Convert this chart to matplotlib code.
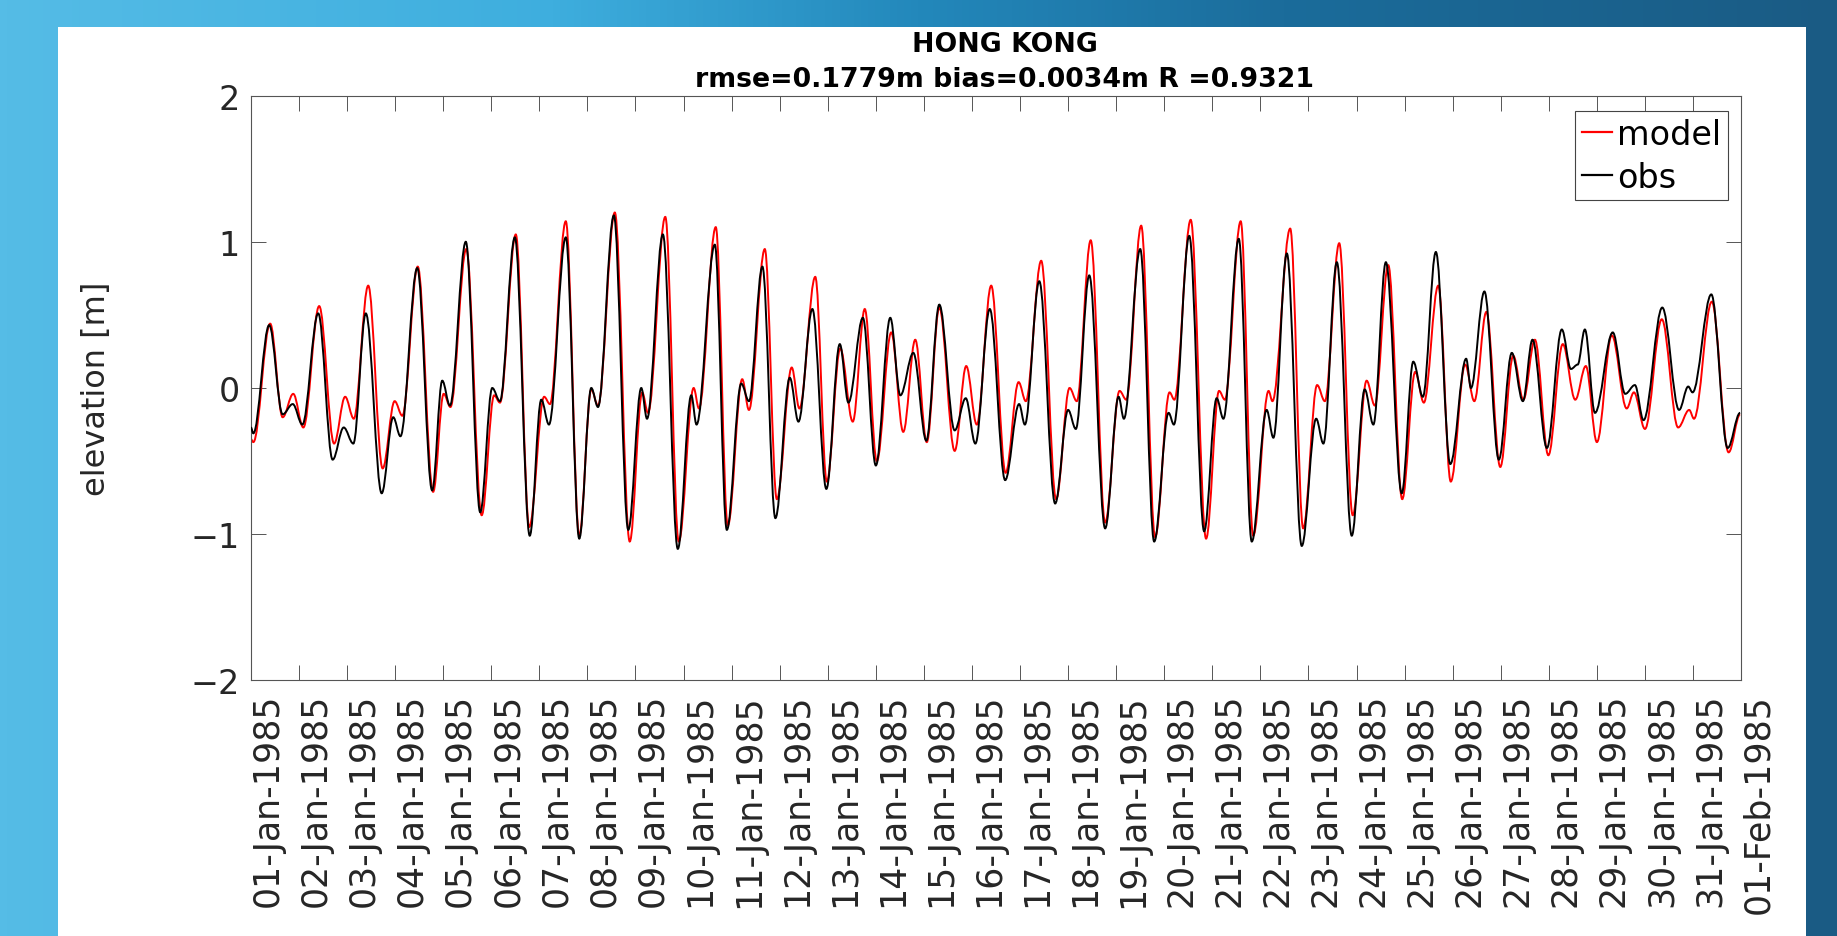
import numpy as np
import pandas as pd
import matplotlib
matplotlib.use('Agg')
import matplotlib.pyplot as plt
import matplotlib.dates as mdates
from matplotlib.path import Path
from matplotlib.patches import PathPatch, Rectangle
from matplotlib.lines import Line2D
from matplotlib.colors import LinearSegmentedColormap

# turning points
# time = days after 01-Jan-1985 00:00, value = elevation [m]
obs_t = [0.00, 0.05, 0.38, 0.66, 0.87, 1.07, 1.40, 1.70, 1.93, 2.13,
         2.39, 2.72, 2.96, 3.11, 3.46, 3.77, 3.98, 4.14, 4.47, 4.77,
         5.02, 5.18, 5.49, 5.80, 6.04, 6.20, 6.55, 6.83, 7.08, 7.22,
         7.55, 7.85, 8.12, 8.24, 8.57, 8.88, 9.16, 9.27, 9.65, 9.90,
         10.20, 10.36, 10.64, 10.91, 11.21, 11.39, 11.68, 11.97, 12.25, 12.43,
         12.73, 13.00, 13.30, 13.51, 13.78, 14.05, 14.32, 14.64, 14.87, 15.07,
         15.37, 15.69, 15.98, 16.10, 16.40, 16.73, 17.00, 17.16, 17.44, 17.77,
         18.05, 18.16, 18.50, 18.79, 19.09, 19.20, 19.52, 19.83, 20.09, 20.23,
         20.55, 20.82, 21.13, 21.27, 21.55, 21.86, 22.16, 22.31, 22.59, 22.90,
         23.17, 23.35, 23.61, 23.94, 24.18, 24.38, 24.65, 24.95, 25.28, 25.38,
         25.66, 25.96, 26.23, 26.46, 26.66, 26.96, 27.27, 27.46, 27.60, 27.75,
         27.96, 28.33, 28.59, 28.79, 28.97, 29.36, 29.71, 29.90, 29.99, 30.38,
         30.72, 30.98]
obs_v = [-0.27, -0.31, 0.43, -0.18, -0.11, -0.25, 0.51, -0.49, -0.27, -0.38,
         0.51, -0.72, -0.20, -0.33, 0.82, -0.70, 0.05, -0.12, 1.00, -0.85,
         0.00, -0.09, 1.03, -1.01, -0.08, -0.25, 1.03, -1.03, 0.00, -0.13,
         1.18, -0.97, 0.00, -0.21, 1.05, -1.10, -0.05, -0.25, 0.98, -0.97,
         0.03, -0.09, 0.83, -0.89, 0.07, -0.23, 0.54, -0.69, 0.30, -0.10,
         0.48, -0.53, 0.48, -0.05, 0.24, -0.36, 0.57, -0.29, -0.07, -0.38,
         0.54, -0.63, -0.11, -0.25, 0.73, -0.79, -0.15, -0.28, 0.77, -0.96,
         -0.06, -0.21, 0.95, -1.05, -0.17, -0.25, 1.04, -0.98, -0.07, -0.21,
         1.02, -1.05, -0.15, -0.34, 0.92, -1.08, -0.21, -0.38, 0.86, -1.01,
         -0.01, -0.25, 0.86, -0.72, 0.18, -0.06, 0.93, -0.52, 0.20, 0.00,
         0.66, -0.49, 0.24, -0.09, 0.33, -0.41, 0.40, 0.13, 0.16, 0.40,
         -0.17, 0.38, -0.04, 0.02, -0.22, 0.55, -0.15, 0.01, -0.03, 0.64,
         -0.41, -0.17]

model_t = [0.00, 0.05, 0.40, 0.66, 0.88, 1.09, 1.42, 1.73, 1.96, 2.14,
           2.44, 2.74, 2.99, 3.15, 3.47, 3.79, 4.01, 4.15, 4.48, 4.80,
           5.06, 5.18, 5.51, 5.79, 6.10, 6.22, 6.55, 6.83, 7.08, 7.22,
           7.57, 7.88, 8.14, 8.26, 8.62, 8.90, 9.21, 9.32, 9.67, 9.92,
           10.22, 10.36, 10.69, 10.94, 11.25, 11.41, 11.74, 11.98, 12.26, 12.52,
           12.77, 13.02, 13.32, 13.57, 13.82, 14.06, 14.32, 14.64, 14.88, 15.10,
           15.40, 15.70, 15.97, 16.12, 16.44, 16.75, 17.03, 17.18, 17.47, 17.77,
           18.07, 18.21, 18.52, 18.81, 19.11, 19.21, 19.55, 19.87, 20.14, 20.26,
           20.59, 20.85, 21.17, 21.25, 21.62, 21.89, 22.18, 22.34, 22.64, 22.92,
           23.21, 23.38, 23.66, 23.95, 24.22, 24.40, 24.70, 24.96, 25.26, 25.45,
           25.70, 25.99, 26.26, 26.47, 26.71, 26.99, 27.29, 27.55, 27.77, 28.00,
           28.31, 28.62, 28.77, 29.00, 29.35, 29.69, 29.92, 30.02, 30.39, 30.74,
           30.98]
model_v = [-0.35, -0.37, 0.44, -0.20, -0.04, -0.27, 0.56, -0.38, -0.06, -0.21,
           0.70, -0.55, -0.09, -0.19, 0.83, -0.71, -0.04, -0.13, 0.95, -0.87,
           -0.05, -0.10, 1.05, -0.95, -0.06, -0.11, 1.14, -1.01, -0.01, -0.12,
           1.20, -1.05, -0.03, -0.17, 1.17, -1.05, 0.00, -0.14, 1.10, -0.94,
           0.06, -0.15, 0.95, -0.76, 0.14, -0.14, 0.76, -0.64, 0.27, -0.23,
           0.54, -0.50, 0.38, -0.30, 0.33, -0.37, 0.55, -0.43, 0.15, -0.25,
           0.70, -0.58, 0.04, -0.09, 0.87, -0.76, 0.00, -0.09, 1.01, -0.92,
           -0.02, -0.08, 1.11, -1.02, -0.03, -0.08, 1.15, -1.03, -0.02, -0.08,
           1.14, -1.01, -0.02, -0.09, 1.09, -0.96, 0.02, -0.09, 0.99, -0.87,
           0.05, -0.12, 0.84, -0.76, 0.11, -0.10, 0.70, -0.64, 0.16, -0.09,
           0.52, -0.54, 0.22, -0.08, 0.33, -0.46, 0.30, -0.08, 0.15, -0.37,
           0.36, -0.14, -0.03, -0.28, 0.47, -0.27, -0.15, -0.21, 0.59, -0.44,
           -0.18]

station = 'HONG KONG'
rmse, bias, R = 0.1779, 0.0034, 0.9321
t_start = '1985-01-01'
t_end = '1985-02-01'
yticks = [-2, -1, 0, 1, 2]


def tide_path(t, v, t0, k=0.36):
    # smooth curve through the turning points (flat tangent at each one)
    x = t0 + np.asarray(t, dtype=float)
    y = np.asarray(v, dtype=float)
    verts = [(x[0], y[0])]
    codes = [Path.MOVETO]
    for i in range(len(x) - 1):
        dx = x[i + 1] - x[i]
        verts += [(x[i] + k * dx, y[i]), (x[i + 1] - k * dx, y[i + 1]), (x[i + 1], y[i + 1])]
        codes += [Path.CURVE4] * 3
    return Path(verts, codes)


fig = plt.figure(figsize=(18.37, 9.37), dpi=100)

# slide background + white panel
bg = fig.add_axes([0, 0, 1, 1], zorder=-10)
cmap = LinearSegmentedColormap.from_list('slide', [
    (0.00, '#55bce6'), (0.30, '#3eaede'), (0.50, '#2388bb'),
    (0.70, '#1b6c9b'), (1.00, '#1a5b84')])
bg.imshow(np.linspace(0, 1, 256)[None, :], cmap=cmap, aspect='auto',
          extent=[0, 1, 0, 1], transform=bg.transAxes)
bg.add_patch(Rectangle((0.0316, 0), 0.9516, 0.970, transform=bg.transAxes,
                       facecolor='white', edgecolor='none'))
bg.set_xlim(0, 1)
bg.set_ylim(0, 1)
bg.axis('off')

ax = fig.add_axes([0.1366, 0.2727, 0.8112, 0.6243])
t0 = mdates.date2num(pd.Timestamp(t_start))
t1 = mdates.date2num(pd.Timestamp(t_end))

ax.add_patch(PathPatch(tide_path(model_t, model_v, t0), fill=False,
                       edgecolor='red', lw=1.4, zorder=2))
ax.add_patch(PathPatch(tide_path(obs_t, obs_v, t0), fill=False,
                       edgecolor='black', lw=1.4, zorder=3))

ax.set_xlim(t0, t1)
ax.set_ylim(-2, 2)
ax.set_yticks(yticks)
ax.xaxis.set_major_locator(mdates.DayLocator())
ax.xaxis.set_major_formatter(mdates.DateFormatter('%d-%b-%Y'))

gray = '#262626'
for s in ax.spines.values():
    s.set_color('#555555')
    s.set_linewidth(0.8)
ax.tick_params(direction='in', length=10.8, width=0.7, color='#555555',
               top=True, right=True, labelcolor=gray)
ax.tick_params(axis='y', labelsize=24, pad=8)
ax.tick_params(axis='x', labelsize=25, pad=9)
ax.yaxis.set_major_formatter(matplotlib.ticker.FuncFormatter(
    lambda v, p: ('\u2212%d' % -v) if v < 0 else '%d' % v))
for lab in ax.get_xticklabels():
    lab.set_rotation(90)
    lab.set_horizontalalignment('left')

ax.set_ylabel('elevation [m]', fontsize=23, color=gray)
ax.yaxis.set_label_coords(-0.093, 0.5)

ax.text(0.506, 1.0062,
        '%s\nrmse=%.4fm bias=%.4fm R =%.4f' % (station, rmse, bias, R),
        transform=ax.transAxes, ha='center', va='bottom', fontsize=19.3,
        fontweight='bold', linespacing=1.46, color='black')

handles = [Line2D([], [], color='red', lw=1.6), Line2D([], [], color='black', lw=1.6)]
leg = ax.legend(handles, ['model', 'obs'], loc='upper right',
                bbox_to_anchor=(0.9913, 0.9735), borderaxespad=0, fontsize=24,
                handlelength=0.9, handletextpad=0.16, borderpad=0.2,
                labelspacing=0.3, fancybox=False, framealpha=1)
leg.get_frame().set_edgecolor('#444444')
leg.get_frame().set_linewidth(0.8)

fig.savefig('out.png', dpi=100)
